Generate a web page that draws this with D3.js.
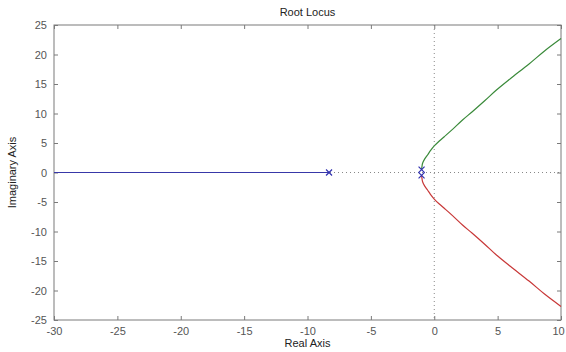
<!DOCTYPE html>
<html>
<head>
<meta charset="utf-8">
<script src="https://cdn.jsdelivr.net/npm/d3@7"></script>
<style>
  body { margin: 0; background: #fff; }
  text { font-family: "Liberation Sans", Arial, sans-serif; }
</style>
</head>
<body>
<svg id="svg"></svg>
<script>
// root locus branches
const blueBranch = [[-30, 0], [-8.3, 0]];
const greenBranch = [
  [-1, 0.5], [-0.97, 1.0], [-0.92, 1.56], [-0.75, 2.3], [-0.53, 2.97],
  [-0.3, 3.7], [0, 4.5], [0.4, 5.35], [0.79, 6.07], [1.44, 7.3],
  [2.23, 8.9], [3, 10.3], [4, 12.2], [4.86, 13.9], [6, 15.9],
  [7.48, 18.4], [8.7, 20.6], [10, 22.7]
];
const redBranch = greenBranch.map(d => [d[0], -d[1]]);
const poles = [[-8.3, 0], [-1, 0.5], [-1, -0.5]];
const xTicks = [-30, -25, -20, -15, -10, -5, 0, 5, 10];
const yTicks = [-25, -20, -15, -10, -5, 0, 5, 10, 15, 20, 25];

const W = 566, H = 352;
const margin = { top: 25, right: 5, bottom: 32, left: 54 };
const width = W - margin.left - margin.right;
const height = H - margin.top - margin.bottom;

const svg = d3.select('#svg').attr('width', W).attr('height', H);
const g = svg.append('g')
  .attr('transform', 'translate(' + margin.left + ',' + margin.top + ')');

const x = d3.scaleLinear().domain([-30, 10]).range([0, width]);
const y = d3.scaleLinear().domain([-25, 25]).range([height, 0]);

const axisColor = '#7a7a7a';
const tickLen = 4;
const fmt = d => String(d); // plain hyphen minus like the original

// dotted zero lines
g.append('line')
  .attr('x1', 0).attr('x2', width)
  .attr('y1', y(0)).attr('y2', y(0))
  .attr('stroke', '#888').attr('stroke-width', 1)
  .attr('stroke-dasharray', '1,3');
g.append('line')
  .attr('x1', x(0)).attr('x2', x(0))
  .attr('y1', 0).attr('y2', height)
  .attr('stroke', '#888').attr('stroke-width', 1)
  .attr('stroke-dasharray', '1,3');

// axes (ticks inside, on all four sides)
function styleAxis(sel) {
  sel.select('.domain').remove();
  sel.selectAll('line').attr('stroke', axisColor);
  sel.selectAll('text').attr('fill', '#555').style('font-size', '11px');
}
g.append('g')
  .attr('transform', 'translate(0,' + height + ')')
  .call(d3.axisBottom(x).tickValues(xTicks).tickFormat(fmt).tickSizeInner(-tickLen).tickSizeOuter(0).tickPadding(7))
  .call(styleAxis)
  .selectAll('text')
  .attr('dx', d => d === 10 ? -3 : 0);
g.append('g')
  .call(d3.axisTop(x).tickValues(xTicks).tickSizeInner(-tickLen).tickSizeOuter(0).tickFormat(''))
  .call(styleAxis);
g.append('g')
  .call(d3.axisLeft(y).tickValues(yTicks).tickFormat(fmt).tickSizeInner(-tickLen).tickSizeOuter(0).tickPadding(7))
  .call(styleAxis);
g.append('g')
  .attr('transform', 'translate(' + width + ',0)')
  .call(d3.axisRight(y).tickValues(yTicks).tickSizeInner(-tickLen).tickSizeOuter(0).tickFormat(''))
  .call(styleAxis);

g.append('rect')
  .attr('width', width).attr('height', height)
  .attr('fill', 'none').attr('stroke', axisColor).attr('stroke-width', 1);

// branches
const line = d3.line().x(d => x(d[0])).y(d => y(d[1])).curve(d3.curveCatmullRom);
const branches = [
  { data: blueBranch, color: '#3838a8' },
  { data: greenBranch, color: '#3a8a3a' },
  { data: redBranch, color: '#c83838' }
];
g.selectAll('.branch')
  .data(branches)
  .join('path')
  .attr('class', 'branch')
  .attr('fill', 'none')
  .attr('stroke', d => d.color)
  .attr('stroke-width', 1.2)
  .attr('d', d => line(d.data));

// pole markers
const s = 3;
g.selectAll('.pole')
  .data(poles)
  .join('path')
  .attr('class', 'pole')
  .attr('fill', 'none')
  .attr('stroke', '#3030b0')
  .attr('stroke-width', 1.2)
  .attr('d', d => {
    const px = x(d[0]), py = y(d[1]);
    return `M${px - s},${py - s}L${px + s},${py + s}M${px - s},${py + s}L${px + s},${py - s}`;
  });

// labels
svg.append('text')
  .attr('x', margin.left + width / 2).attr('y', 16)
  .attr('text-anchor', 'middle').style('font-size', '11px').attr('fill', '#222')
  .text('Root Locus');
svg.append('text')
  .attr('x', margin.left + width / 2).attr('y', 347)
  .attr('text-anchor', 'middle').style('font-size', '11px').attr('fill', '#222')
  .text('Real Axis');
svg.append('text')
  .attr('transform', 'translate(16,' + (margin.top + height / 2) + ') rotate(-90)')
  .attr('text-anchor', 'middle').style('font-size', '11px').attr('fill', '#222')
  .text('Imaginary Axis');
</script>
</body>
</html>
